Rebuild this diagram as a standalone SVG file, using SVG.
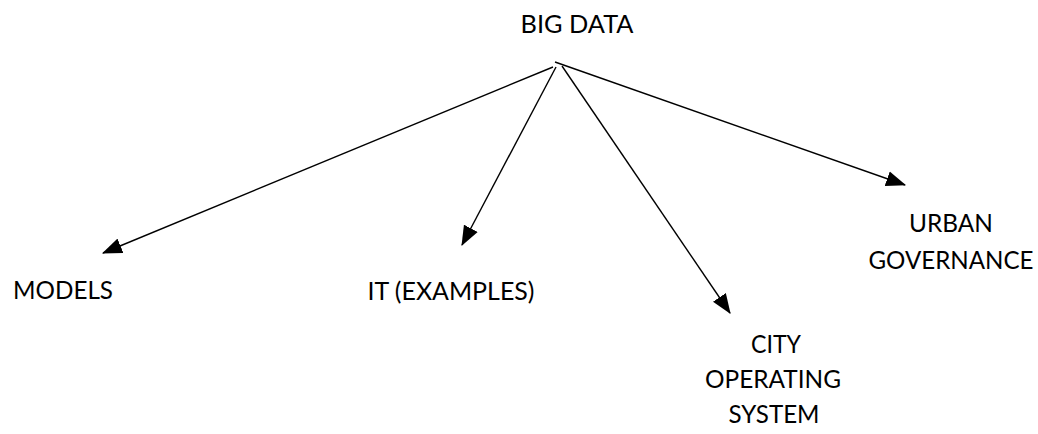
<svg xmlns="http://www.w3.org/2000/svg" width="1038" height="434" viewBox="0 0 1038 434">
<style>
.t{font-family:Lato,"Liberation Sans",sans-serif;font-size:25px;fill:#000;text-anchor:middle}
.c{stroke:#000;stroke-width:1.4;fill:none}
</style>
<defs>
<marker id="ah" markerUnits="userSpaceOnUse" markerWidth="20" markerHeight="16" viewBox="0 0 18 14" refX="17" refY="7" orient="auto">
<path d="M0,0 L18,7 L0,14 Z" fill="#000"/>
</marker>
</defs>
<rect width="1038" height="434" fill="#fff"/>
<g id="connectors">
<line class="c" x1="553" y1="67" x2="103" y2="253" marker-end="url(#ah)"/>
<line class="c" x1="556" y1="67" x2="462" y2="245" marker-end="url(#ah)"/>
<line class="c" x1="562" y1="66" x2="730" y2="313" marker-end="url(#ah)"/>
<line class="c" x1="555" y1="62" x2="905" y2="185" marker-end="url(#ah)"/>
</g>
<g id="big-data"><text class="t" x="577" y="33" textLength="113" lengthAdjust="spacingAndGlyphs">BIG DATA</text></g>
<g id="models"><text class="t" x="63" y="299" textLength="100" lengthAdjust="spacingAndGlyphs">MODELS</text></g>
<g id="it-examples"><text class="t" x="451" y="300" textLength="167" lengthAdjust="spacingAndGlyphs">IT (EXAMPLES)</text></g>
<g id="city-os"><text class="t" x="776" y="353" textLength="50" lengthAdjust="spacingAndGlyphs">CITY</text><text class="t" x="773" y="388" textLength="136" lengthAdjust="spacingAndGlyphs">OPERATING</text><text class="t" x="774" y="423" textLength="91" lengthAdjust="spacingAndGlyphs">SYSTEM</text></g>
<g id="urban-gov"><text class="t" x="951" y="232" textLength="84" lengthAdjust="spacingAndGlyphs">URBAN</text><text class="t" x="951" y="269" textLength="165" lengthAdjust="spacingAndGlyphs">GOVERNANCE</text></g>
</svg>
